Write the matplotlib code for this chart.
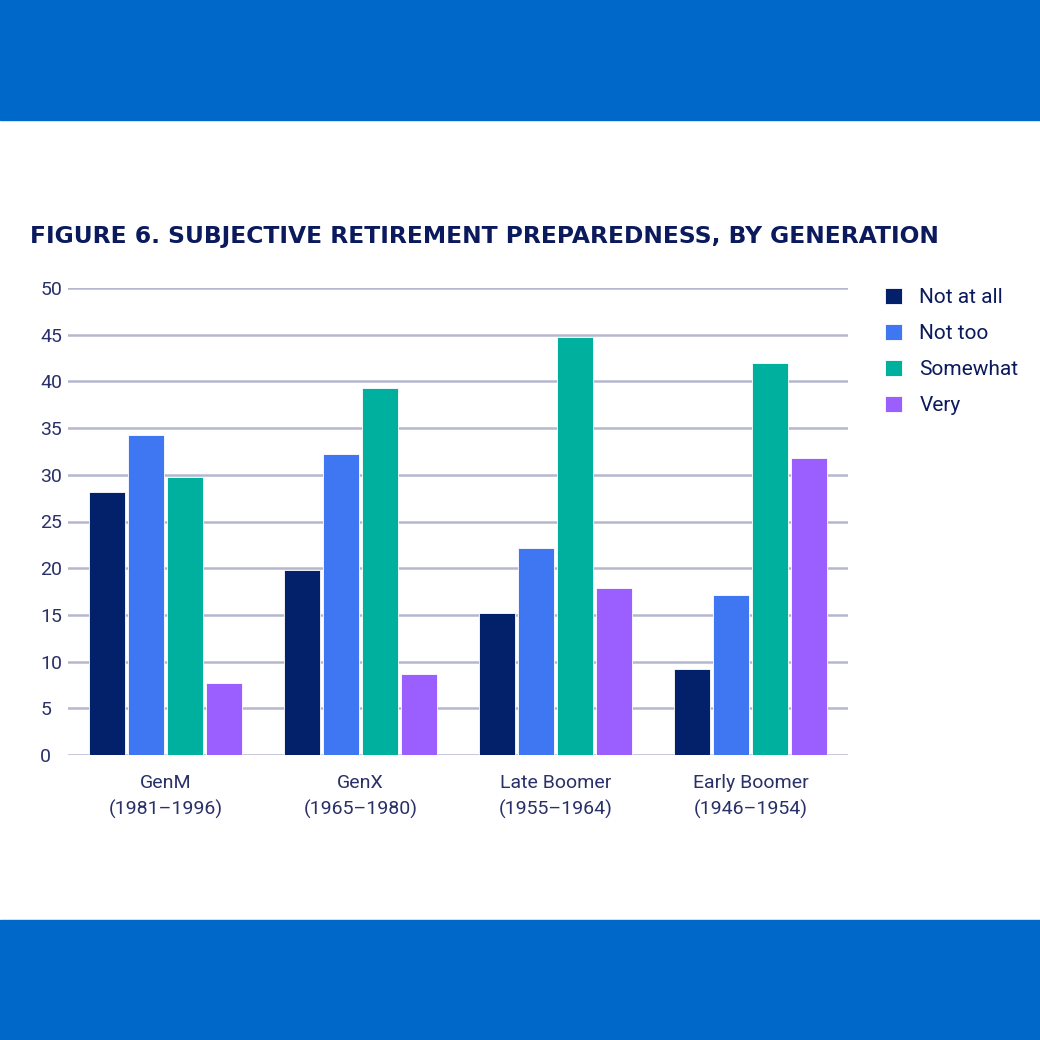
import matplotlib
matplotlib.use("Agg")
import matplotlib.pyplot as plt
import numpy as np
from matplotlib.patches import Rectangle

categories = ["GenM\n(1981–1996)", "GenX\n(1965–1980)", "Late Boomer\n(1955–1964)", "Early Boomer\n(1946–1954)"]
series_names = ["Not at all", "Not too", "Somewhat", "Very"]
not_at_all = [28.2, 19.8, 15.2, 9.2]
not_too = [34.3, 32.2, 22.2, 17.1]
somewhat = [29.8, 39.3, 44.8, 42.0]
very = [7.7, 8.7, 17.9, 31.8]
y_ticks = [0, 5, 10, 15, 20, 25, 30, 35, 40, 45, 50]
title = "FIGURE 6. SUBJECTIVE RETIREMENT PREPAREDNESS, BY GENERATION"

colors = ["#03206B", "#3F77F2", "#00B09E", "#9B5FFF"]
text_color = "#2A3068"
navy = "#0A1A5C"
banner = "#0068C9"

plt.rcParams['font.family'] = ['Roboto', 'DejaVu Sans']

fig = plt.figure(figsize=(10.4, 10.4), dpi=100)
fig.patch.set_facecolor("white")
# banners
fig.add_artist(Rectangle((0, 1 - 120/1040), 1, 120/1040, transform=fig.transFigure, color=banner, zorder=0))
fig.add_artist(Rectangle((0, 0), 1, 120/1040, transform=fig.transFigure, color=banner, zorder=0))

ax = fig.add_axes([68/1040, 1 - 755/1040, 780/1040, 467/1040])
values = [not_at_all, not_too, somewhat, very]
x = np.arange(len(categories))
step = 0.2
width = 0.18
for i, (name, vals) in enumerate(zip(series_names, values)):
    ax.bar(x + (i - 1.5) * step, vals, width=width, color=colors[i], label=name,
           edgecolor="white", linewidth=0.6, zorder=3)

ax.set_xlim(-0.5, 3.5)
ax.set_ylim(0, 50)
ax.set_yticks(y_ticks)
ax.set_yticklabels([str(t) for t in y_ticks])
for t in y_ticks:
    ax.axhline(t, color="#B5B7CF", lw=1.8, zorder=1)
for s in ax.spines.values():
    s.set_visible(False)
ax.tick_params(axis="y", length=0, pad=20, labelsize=14, labelcolor=text_color)
for lbl in ax.get_yticklabels():
    lbl.set_horizontalalignment("left")
ax.set_xticks(x)
ax.set_xticklabels(categories, fontsize=14, color=text_color, linespacing=1.5)
ax.tick_params(axis="x", length=0, pad=14)

fig.text(30/1040, 1 - 237/1040, title, fontsize=16.8, fontweight="bold", color=navy,
         va="center", ha="left", family=["DejaVu Sans"])

leg = ax.legend(loc="upper left", bbox_to_anchor=((885 - 68)/780, 1.0), frameon=False,
                fontsize=15, labelcolor=navy, handlelength=0.8, handleheight=0.8,
                labelspacing=0.8, handletextpad=0.85, borderaxespad=0, borderpad=0)

fig.savefig("out.png", dpi=100, facecolor="white")
